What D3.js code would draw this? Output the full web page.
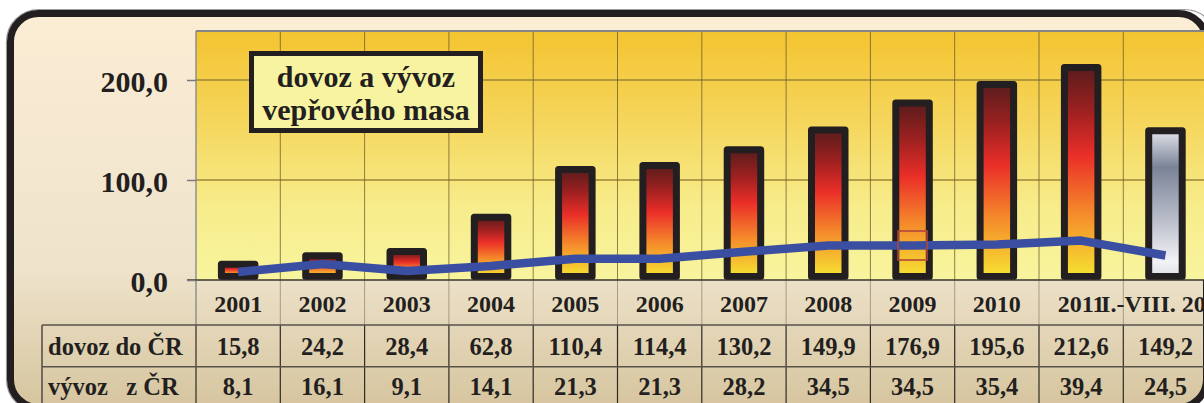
<!DOCTYPE html>
<html>
<head>
<meta charset="utf-8">
<script src="https://cdn.jsdelivr.net/npm/d3@7"></script>
<style>
  html, body { margin: 0; padding: 0; background: #ffffff; }
  svg { display: block; }
</style>
</head>
<body>
<svg id="mainsvg" width="1204" height="403"></svg>
<script>
// data
const categories = ['2001', '2002', '2003', '2004', '2005', '2006', '2007', '2008', '2009', '2010', '2011', 'I.-VIII. 2012'];
const dovoz = [15.8, 24.2, 28.4, 62.8, 110.4, 114.4, 130.2, 149.9, 176.9, 195.6, 212.6, 149.2];
const vyvoz = [8.1, 16.1, 9.1, 14.1, 21.3, 21.3, 28.2, 34.5, 34.5, 35.4, 39.4, 24.5];
const yTicks = [0, 100, 200];
const rowLabels = ['dovoz do ČR', 'vývoz   z ČR'];
const titleLines = ['dovoz a vývoz', 'vepřového masa'];

const svg = d3.select('#mainsvg');
const width = +svg.attr('width');
const height = +svg.attr('height');
const plot = { left: 196, top: 31, right: 1207.6, bottom: 280 };
const rowTop = [325, 366.7];
const tableLeft = 42;
const serif = '"Liberation Serif", "Times New Roman", serif';
const ink = '#231f20';

const cz = d3.formatLocale({ decimal: ',', thousands: ' ', grouping: [3], currency: ['', ' Kč'] });
const fmt = cz.format('.1f');

const xScale = d3.scaleBand().domain(categories).range([plot.left, plot.right]).padding(0);
const yScale = d3.scaleLinear().domain([0, 249]).range([plot.bottom, plot.top]);

// gradients
const defs = svg.append('defs');
const grad = (id, stops, attrs) => {
    const g = defs.append('linearGradient').attr('id', id)
        .attr('x1', 0).attr('y1', 0).attr('x2', 0).attr('y2', 1);
    if (attrs) Object.entries(attrs).forEach(([k, v]) => g.attr(k, v));
    stops.forEach(s => g.append('stop').attr('offset', s[0]).attr('stop-color', s[1]));
};
grad('bgBeige', [[0, '#fcedd5'], [0.65, '#eee3cb'], [1, '#d6c59f']], { gradientUnits: 'userSpaceOnUse', y1: 14, y2: 405 });
grad('bgPlot', [[0, '#f4c431'], [0.35, '#f5d55a'], [0.7, '#f7ec8a'], [1, '#f8f49e']]);
grad('barHot', [[0, '#5a1c1c'], [0.2, '#9a2020'], [0.42, '#ea2e28'], [0.7, '#f58b2b'], [1, '#f6e232']]);
grad('barGrey', [[0, '#e2e4ea'], [0.25, '#7a8398'], [0.6, '#b8bcc8'], [0.9, '#f2f3f6'], [1, '#dcdfe6']]);

// outer frame
svg.append('rect').attr('x', 6.5).attr('y', 9.5).attr('width', 1210).attr('height', 402)
    .attr('rx', 32).attr('fill', 'none').attr('stroke', '#9a9a9a').attr('stroke-width', 1.2);
svg.append('rect').attr('x', 10.5).attr('y', 13.5).attr('width', 1196).attr('height', 394)
    .attr('rx', 28).attr('fill', 'url(#bgBeige)').attr('stroke', ink).attr('stroke-width', 7);

// plot background
const g = svg.append('g').attr('id', 'maingroup');
g.append('rect').attr('x', plot.left).attr('y', plot.top)
    .attr('width', plot.right - plot.left).attr('height', plot.bottom - plot.top)
    .attr('fill', 'url(#bgPlot)');

// horizontal grid
g.selectAll('.hgrid').data(yTicks.filter(d => d > 0)).join('line')
    .attr('class', 'hgrid')
    .attr('x1', plot.left).attr('x2', plot.right)
    .attr('y1', d => yScale(d)).attr('y2', d => yScale(d))
    .attr('stroke', '#9b8638').attr('stroke-width', 1.4);

// vertical grid (through plot and the table)
const bounds = categories.slice(1).map(c => xScale(c));
g.selectAll('.vgrid').data(bounds).join('line')
    .attr('class', 'vgrid')
    .attr('x1', d => d).attr('x2', d => d)
    .attr('y1', plot.top).attr('y2', plot.bottom)
    .attr('stroke', '#6b5a2a').attr('stroke-width', 1).attr('opacity', 0.75);
g.selectAll('.vgridLab').data(bounds).join('line')
    .attr('class', 'vgridLab')
    .attr('x1', d => d).attr('x2', d => d)
    .attr('y1', plot.bottom).attr('y2', rowTop[0])
    .attr('stroke', '#8a8070').attr('stroke-width', 1).attr('opacity', 0.7);
g.selectAll('.vgridTab').data(bounds).join('line')
    .attr('class', 'vgridTab')
    .attr('x1', d => d).attr('x2', d => d)
    .attr('y1', rowTop[0]).attr('y2', height + 5)
    .attr('stroke', '#2e2a26').attr('stroke-width', 1.2);

// plot borders
g.append('line').attr('x1', plot.left).attr('x2', width).attr('y1', plot.top).attr('y2', plot.top)
    .attr('stroke', '#858585').attr('stroke-width', 1.8);
g.append('line').attr('x1', plot.left).attr('x2', plot.left).attr('y1', plot.top).attr('y2', rowTop[0])
    .attr('stroke', '#8a8a8a').attr('stroke-width', 1.4);
g.append('line').attr('x1', plot.left).attr('x2', plot.left).attr('y1', rowTop[0]).attr('y2', height + 5)
    .attr('stroke', '#2e2a26').attr('stroke-width', 1.2);

// bars
const barW = 33.5;
g.selectAll('.bar').data(categories).join('rect')
    .attr('class', 'bar')
    .attr('x', d => xScale(d) + xScale.bandwidth() / 2 - barW / 2)
    .attr('y', (d, i) => yScale(dovoz[i]))
    .attr('width', barW)
    .attr('height', (d, i) => yScale(0) - 3.5 - yScale(dovoz[i]))
    .attr('fill', (d, i) => i === categories.length - 1 ? 'url(#barGrey)' : 'url(#barHot)')
    .attr('stroke', ink).attr('stroke-width', 7).attr('stroke-linejoin', 'round');

// x axis line
g.append('line').attr('x1', 187).attr('x2', width).attr('y1', plot.bottom).attr('y2', plot.bottom)
    .attr('stroke', '#3a3530').attr('stroke-width', 1.5);

// y axis
const yAxis = d3.axisLeft(yScale).tickValues(yTicks).tickFormat(fmt).tickSize(9).tickPadding(19);
const yAxisGroup = g.append('g').call(yAxis).attr('transform', `translate(${plot.left}, 0)`);
yAxisGroup.selectAll('.domain').remove();
yAxisGroup.selectAll('.tick line').attr('stroke', '#7a7a7a').attr('stroke-width', 1.5);
yAxisGroup.selectAll('.tick text')
    .attr('font-family', serif).attr('font-size', 30).attr('font-weight', 'bold')
    .attr('fill', ink).attr('dy', '0.38em');

// export line
const line = d3.line()
    .x((d, i) => xScale(categories[i]) + xScale.bandwidth() / 2)
    .y(d => yScale(d));
g.append('path').datum(vyvoz).attr('d', line)
    .attr('fill', 'none').attr('stroke', '#3a4fa2').attr('stroke-width', 8.5)
    .attr('stroke-linejoin', 'round');

// small selection square at 2009
const sel = 8;
g.append('rect')
    .attr('x', xScale(categories[sel]) + xScale.bandwidth() / 2 - 14.5)
    .attr('y', yScale(vyvoz[sel]) - 14.5)
    .attr('width', 29).attr('height', 29)
    .attr('fill', 'none').attr('stroke', '#b0463a').attr('stroke-width', 1.6);

// category labels
const xAxis = d3.axisBottom(xScale).tickSize(0).tickPadding(0);
const xAxisGroup = g.append('g').call(xAxis).attr('transform', `translate(0, ${plot.bottom})`);
xAxisGroup.selectAll('.domain').remove();
xAxisGroup.selectAll('.tick text')
    .attr('font-family', serif).attr('font-size', 24).attr('font-weight', 'bold')
    .attr('fill', ink).attr('y', 31.5).attr('dy', 0);

// table
rowTop.forEach(y => {
    g.append('line').attr('x1', tableLeft).attr('x2', width).attr('y1', y).attr('y2', y)
        .attr('stroke', '#57524a').attr('stroke-width', 1.6);
});
g.append('line').attr('x1', tableLeft).attr('x2', tableLeft).attr('y1', rowTop[0]).attr('y2', height + 5)
    .attr('stroke', '#57524a').attr('stroke-width', 1.6);

const rows = [dovoz, vyvoz];
const baselines = [355, 395];
rows.forEach((vals, r) => {
    g.append('text').attr('x', 48).attr('y', baselines[r])
        .attr('font-family', serif).attr('font-size', 24.5).attr('font-weight', 'bold')
        .attr('fill', ink).attr('xml:space', 'preserve').style('white-space', 'pre')
        .text(rowLabels[r]);
    g.selectAll('.cell' + r).data(vals).join('text')
        .attr('class', 'cell' + r)
        .attr('x', (d, i) => xScale(categories[i]) + xScale.bandwidth() / 2)
        .attr('y', baselines[r])
        .attr('text-anchor', 'middle')
        .attr('font-family', serif).attr('font-size', 24.5).attr('font-weight', 'bold')
        .attr('fill', ink)
        .text(d => fmt(d));
});

// title box
g.append('rect').attr('x', 251.5).attr('y', 53.5).attr('width', 229).attr('height', 77)
    .attr('fill', '#f8f3a0').attr('stroke', ink).attr('stroke-width', 5);
g.selectAll('.title').data(titleLines).join('text')
    .attr('class', 'title')
    .attr('x', 366).attr('y', (d, i) => 87 + i * 33)
    .attr('text-anchor', 'middle')
    .attr('font-family', serif).attr('font-size', 30).attr('font-weight', 'bold')
    .attr('fill', ink)
    .text(d => d);
</script>
</body>
</html>
